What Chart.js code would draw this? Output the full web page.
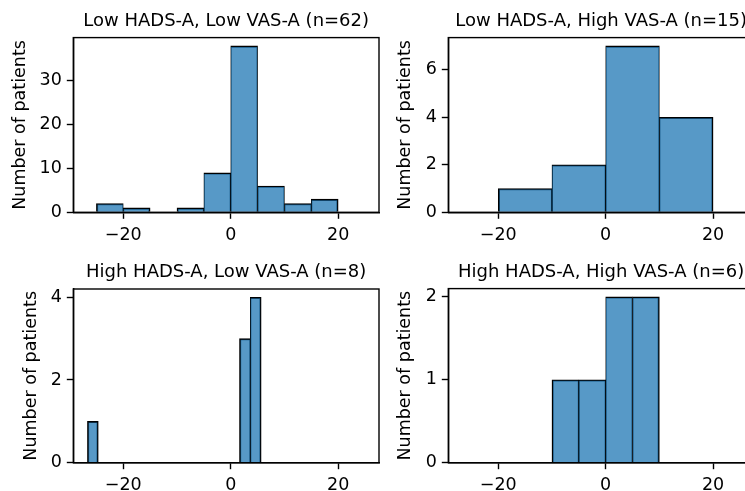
<!DOCTYPE html>
<html><head><meta charset="utf-8">
<script src="https://cdn.jsdelivr.net/npm/chart.js@4.4.1/dist/chart.umd.min.js"></script>
<style>
html,body{margin:0;padding:0;background:#fff;overflow:hidden;width:745px;height:491px;position:relative}
.p{position:absolute}
</style></head><body>
<div class="p" style="left:0;top:0;width:380px;height:250px"><canvas id="c1"></canvas></div>
<div class="p" style="left:380px;top:0;width:380px;height:250px"><canvas id="c2"></canvas></div>
<div class="p" style="left:0;top:250px;width:380px;height:241px"><canvas id="c3"></canvas></div>
<div class="p" style="left:380px;top:250px;width:380px;height:241px"><canvas id="c4"></canvas></div>
<script>
// ---- data ----
const titles = [
  "Low HADS-A, Low VAS-A (n=62)",
  "Low HADS-A, High VAS-A (n=15)",
  "High HADS-A, Low VAS-A (n=8)",
  "High HADS-A, High VAS-A (n=6)"
];
const yLabel = "Number of patients";
// bin centres (x) and counts per panel
const binCenters1 = [-22.5, -17.5, -7.5, -2.5, 2.5, 7.5, 12.5, 17.5];
const counts1     = [2, 1, 1, 9, 38, 6, 2, 3];
const binCenters2 = [-15, -5, 5, 15];
const counts2     = [1, 2, 7, 4];
const binCenters3 = [-25.66, 2.64, 4.66];
const counts3     = [1, 3, 4];
const binCenters4 = [-7.5, -2.5, 2.5, 7.5];
const counts4     = [1, 1, 2, 2];
const xTicks  = [-20, 0, 20];
const yTicks1 = [0, 10, 20, 30];
const yTicks2 = [0, 2, 4, 6];
const yTicks3 = [0, 2, 4];
const yTicks4 = [0, 1, 2];
const yMaxes  = [39.9, 7.35, 4.2, 2.1];
const xMin = -29.3, xMax = 27.6;

// ---- drawing ----
Chart.defaults.font.family = "'DejaVu Sans', sans-serif";
Chart.defaults.font.size = 17.5;
Chart.defaults.color = '#000';

const boxPlugin = {
  id: 'box',
  afterDraw(chart) {
    const a = chart.chartArea, ctx = chart.ctx;
    ctx.save();
    ctx.strokeStyle = '#000';
    ctx.lineWidth = 1.4;
    ctx.strokeRect(a.left, a.top, a.right - a.left, a.bottom - a.top);
    ctx.restore();
  }
};

function fmt(v) { return v < 0 ? '\u2212' + Math.abs(v) : String(v); }

function makePanel(id, geo, title, centers, counts, yTicks, yMax) {
  const gaps = centers.slice(1).map((c, i) => c - centers[i]);
  const minGap = Math.min(...gaps);
  const W = 1.4;
  new Chart(document.getElementById(id), {
    type: 'bar',
    data: {
      datasets: [{
        data: centers.map((c, i) => ({x: c, y: counts[i]})),
        backgroundColor: 'rgba(31,119,180,0.75)',
        borderColor: '#000',
        borderWidth: (ctx) => {
          const i = ctx.dataIndex;
          const l = i > 0 && Math.abs(centers[i] - centers[i - 1] - minGap) < 1e-6;
          const r = i < centers.length - 1 && Math.abs(centers[i + 1] - centers[i] - minGap) < 1e-6;
          return {top: W, left: l ? W / 2 : W, right: r ? W / 2 : W, bottom: 0};
        },
        barPercentage: 1,
        categoryPercentage: 1
      }]
    },
    options: {
      responsive: true,
      maintainAspectRatio: false,
      animation: false,
      devicePixelRatio: 1,
      layout: {padding: {left: 0, top: 0, right: geo.padRight, bottom: 0}},
      plugins: {
        legend: {display: false},
        tooltip: {enabled: false},
        title: {
          display: true, text: title, fullSize: false,
          color: '#000',
          font: {size: 18, weight: 'normal'},
          padding: {top: geo.titleTop, bottom: 5.5}
        }
      },
      scales: {
        x: {
          type: 'linear', min: xMin, max: xMax, offset: false,
          afterBuildTicks: (s) => { s.ticks = xTicks.map(v => ({value: v})); },
          afterFit: (s) => { s.height = geo.xh; s.paddingLeft = 0; s.paddingRight = 0; },
          ticks: {callback: (v) => fmt(v), padding: 6, maxRotation: 0, color: '#000'},
          grid: {display: true, drawOnChartArea: false, drawTicks: true, tickLength: 6.5, tickWidth: 1.4, tickColor: '#000', offset: false},
          border: {display: true, color: '#000', width: 1.4}
        },
        y: {
          type: 'linear', min: 0, max: yMax,
          afterBuildTicks: (s) => { s.ticks = yTicks.map(v => ({value: v})); },
          afterFit: (s) => { s.width = geo.yw; s.paddingTop = 0; s.paddingBottom = 0; },
          ticks: {padding: 5, color: '#000'},
          grid: {display: true, drawOnChartArea: false, drawTicks: true, tickLength: 6.5, tickWidth: 1.4, tickColor: '#000'},
          border: {display: true, color: '#000', width: 1.4},
          title: {display: true, text: yLabel, color: '#000', font: {size: 17.5}, padding: {top: geo.yTitlePad, bottom: 0}}
        }
      }
    },
    plugins: [boxPlugin]
  });
}

makePanel('c1', {padRight: 1,   titleTop: 10.5, xh: 37.7, yw: 73.3, yTitlePad: 9.5},  titles[0], binCenters1, counts1, yTicks1, yMaxes[0]);
makePanel('c2', {padRight: 6.1, titleTop: 10.5, xh: 37.7, yw: 68.3, yTitlePad: 15},   titles[1], binCenters2, counts2, yTicks2, yMaxes[1]);
makePanel('c3', {padRight: 1,   titleTop: 11.9, xh: 28.3, yw: 73.3, yTitlePad: 21},   titles[2], binCenters3, counts3, yTicks3, yMaxes[2]);
makePanel('c4', {padRight: 6.1, titleTop: 11.5, xh: 28.3, yw: 68.3, yTitlePad: 15},   titles[3], binCenters4, counts4, yTicks4, yMaxes[3]);
</script>
</body></html>
